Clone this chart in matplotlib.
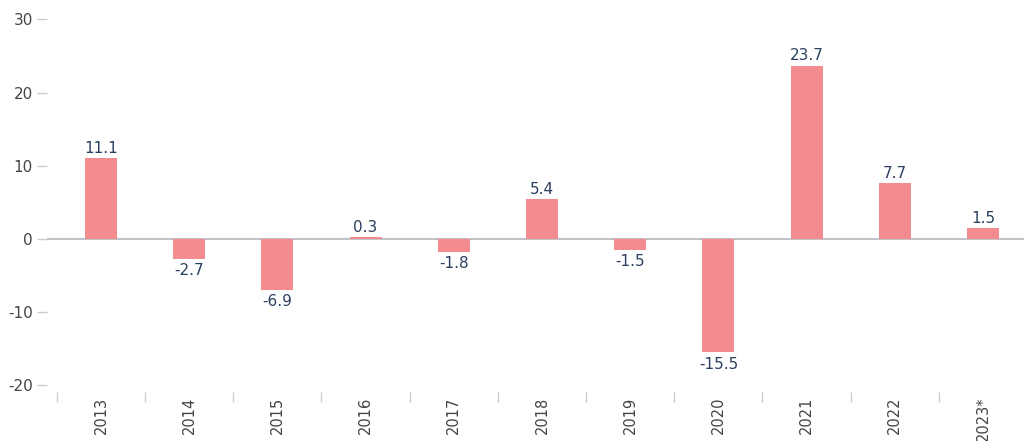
import matplotlib
matplotlib.use("Agg")
import matplotlib.pyplot as plt
import numpy as np

years = ["2013", "2014", "2015", "2016", "2017", "2018", "2019", "2020", "2021", "2022", "2023*"]
values = [11.1, -2.7, -6.9, 0.3, -1.8, 5.4, -1.5, -15.5, 23.7, 7.7, 1.5]
yticks = [-20, -10, 0, 10, 20, 30]

plt.rcParams['font.family'] = ['DejaVu Sans']
fig = plt.figure(figsize=(10.24, 4.41), dpi=100)
W, H = 1024, 441
left, right, top, bottom = 47, 1024, 15, 392
ax = fig.add_axes([left / W, 1 - bottom / H, (right - left) / W, (bottom - top) / H])

x = np.arange(len(years))
bar_color = "#F48C8F"
ax.bar(x, values, width=0.363, color=bar_color, zorder=2)
ax.axhline(0, color="#BFC3C8", lw=1.5, zorder=1)

fs = 11
for xi, v in zip(x, values):
    if v >= 0:
        ax.annotate(f"{v:.1f}", (xi, v), xytext=(0, 1.5), textcoords="offset points",
                    ha="center", va="bottom", fontsize=fs, color="#2a3f5f")
    else:
        ax.annotate(f"{v:.1f}", (xi, v), xytext=(0, -3), textcoords="offset points",
                    ha="center", va="top", fontsize=fs, color="#2a3f5f")

ax.set_xlim(-0.612, 10.465)
ax.set_ylim(-(bottom - 239) / 7.32, (239 - top) / 7.32)

ax.set_yticks(yticks)
ax.set_yticklabels([str(t) for t in yticks], fontsize=fs, color="#444444")
ax.tick_params(axis="y", length=7.2, width=1, color="#C8CCD2", pad=3)

ax.set_xticks(x)
ax.set_xticklabels(years, rotation=90, fontsize=10.5, color="#444444")
ax.tick_params(axis="x", which="major", length=0, pad=3.5)
ax.set_xticks(np.arange(-0.5, 10.0, 1.0), minor=True)
ax.tick_params(axis="x", which="minor", length=7.2, width=1, color="#C8CCD2")

for s in ax.spines.values():
    s.set_visible(False)

fig.savefig("out.png", dpi=100)
